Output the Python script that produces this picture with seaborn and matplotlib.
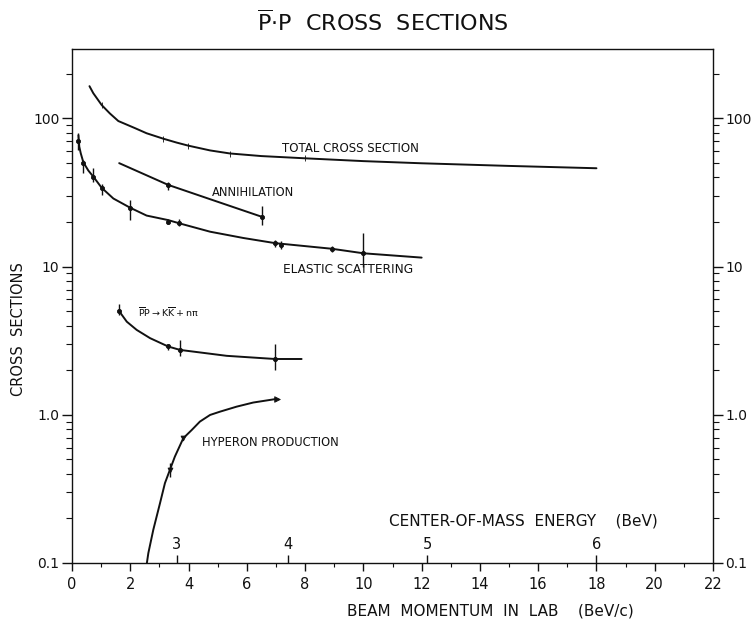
import numpy as np
import pandas as pd
import matplotlib
matplotlib.use("Agg")
import matplotlib.pyplot as plt
import matplotlib.transforms as mtransforms
import seaborn as sns

# ---- data: antiproton-proton cross sections (mb) vs beam momentum (BeV/c) ----
total_p = [0.60, 0.73, 1.02, 1.30, 1.59, 2.16, 2.56, 3.13, 3.59, 3.99, 4.74,
           5.42, 6.5, 8.0, 10.0, 12.0, 15.0, 18.0]
total_s = [165, 148, 123, 108, 96, 86, 79.4, 73, 68.7, 65.5, 60.8,
           58, 55.7, 53.8, 51.5, 49.8, 47.8, 46.1]
total_pts_p = [1.02, 3.13, 3.99, 5.42, 8.0]
total_pts_s = [123, 73, 65.5, 57.5, 53.8]

ann_p = [1.62, 3.30, 4.74, 6.51]
ann_s = [49.9, 35.6, 28.5, 21.7]
ann_pts_p = [3.30, 6.51]
ann_pts_s = [35.6, 21.7]
ann_lo = [32.9, 19.1]
ann_hi = [37.5, 25.5]

el_p = [0.22, 0.25, 0.30, 0.39, 0.56, 0.73, 1.02, 1.42, 1.99, 2.56, 3.30, 3.68,
        4.74, 5.88, 6.97, 8.91, 10.0, 12.0]
el_s = [77, 64.5, 58.2, 50.5, 44.5, 40.5, 34, 28.8, 25, 22.1, 20.6, 19.6,
        17.2, 15.6, 14.4, 13.2, 12.3, 11.5]
el_pts_p = [0.22, 0.39, 0.73, 1.02, 1.99, 3.30, 3.68, 6.97, 7.16, 8.91, 10.0]
el_pts_s = [70, 49.8, 40.5, 34, 24.8, 20.1, 19.6, 14.4, 14.0, 13.2, 12.3]
el_lo = [61, 43, 37.3, 30.5, 20.7, 19.3, 18.8, 13.6, 13.2, 12.6, 9.9]
el_hi = [80, 52.5, 46.3, 36, 28.2, 21.0, 20.9, 15.2, 14.8, 13.8, 16.8]

kk_p = [1.62, 1.88, 2.22, 2.68, 3.30, 3.71, 5.31, 6.97, 7.88]
kk_s = [5.0, 4.25, 3.74, 3.29, 2.89, 2.74, 2.50, 2.38, 2.38]
kk_pts_p = [1.62, 3.30, 3.71, 6.97]
kk_pts_s = [5.0, 2.89, 2.74, 2.38]
kk_lo = [4.7, 2.75, 2.5, 2.02]
kk_hi = [5.6, 3.02, 3.2, 3.0]

hyp_p = [2.57, 2.62, 2.79, 3.02, 3.19, 3.36, 3.53, 3.82, 4.11, 4.39, 4.74,
         5.08, 5.65, 6.22, 7.02]
hyp_s = [0.1, 0.1166, 0.1675, 0.253, 0.346, 0.425, 0.522, 0.695, 0.79, 0.90,
         0.998, 1.05, 1.135, 1.21, 1.28]
hyp_pts_p = [3.36, 3.82, 7.02]
hyp_pts_s = [0.425, 0.695, 1.28]
hyp_lo = [0.38, 0.695, 1.28]
hyp_hi = [0.47, 0.695, 1.28]

x_ticks = list(range(0, 23, 2))
y_ticks = [0.1, 1.0, 10, 100]
y_ticklabels = ["0.1", "1.0", "10", "100"]

# center-of-mass energy scale (BeV) and matching beam momentum (BeV/c)
cm_energy = ["3", "4", "5", "6"]
cm_momentum = [3.6, 7.4, 12.2, 18.0]

curve_labels = [
    ("TOTAL CROSS SECTION", 7.2, 62.2, 8.5),
    ("ANNIHILATION", 4.8, 31.4, 8.3),
    ("ELASTIC SCATTERING", 7.24, 9.5, 8.7),
    (r"$\overline{\rm P}{\rm P}\rightarrow{\rm K}\overline{\rm K}+n\pi$", 2.26, 4.95, 6.8),
    ("HYPERON PRODUCTION", 4.46, 0.646, 8.3),
]

# ---- style ----
sns.set_style("ticks")
plt.rcParams["font.family"] = ["DejaVu Sans"]
ink = "#111111"
plt.rcParams.update({
    "axes.edgecolor": ink, "axes.linewidth": 1.0,
    "xtick.color": ink, "ytick.color": ink,
    "text.color": ink, "axes.labelcolor": ink,
})

fig = plt.figure(figsize=(7.55, 6.22), dpi=100)
ax = fig.add_axes([72 / 755, 1 - 563 / 622, (713 - 72) / 755, (563 - 49) / 622])

def draw_curve(px, sy):
    df = pd.DataFrame({"p": px, "s": sy})
    sns.lineplot(data=df, x="p", y="s", ax=ax, color=ink, lw=1.4,
                 sort=False, estimator=None)

def draw_points(px, sy, lo=None, hi=None, marker="o", ms=3):
    df = pd.DataFrame({"p": px, "s": sy})
    sns.scatterplot(data=df, x="p", y="s", ax=ax, color=ink, marker=marker,
                    s=ms ** 2, edgecolor=ink, linewidth=0.6, zorder=4)
    if lo is not None:
        ax.vlines(px, lo, hi, colors=ink, lw=1.0, zorder=4)

draw_curve(total_p, total_s)
draw_points(total_pts_p, total_pts_s, marker="|", ms=5)

draw_curve(ann_p, ann_s)
draw_points(ann_pts_p, ann_pts_s, ann_lo, ann_hi)

draw_curve(el_p, el_s)
draw_points(el_pts_p, el_pts_s, el_lo, el_hi)

draw_curve(kk_p, kk_s)
draw_points(kk_pts_p, kk_pts_s, kk_lo, kk_hi)

draw_curve(hyp_p, hyp_s)
draw_points(hyp_pts_p[:2], hyp_pts_s[:2], hyp_lo[:2], hyp_hi[:2], marker="v", ms=3.5)
draw_points(hyp_pts_p[2:], hyp_pts_s[2:], marker=">", ms=4)

for txt, xp, yv, fs in curve_labels:
    ax.text(xp, yv, txt, fontsize=fs, ha="left", va="center", color=ink)

# ---- axes ----
ax.set_yscale("log")
ax.set_xlim(0, 22)
ax.set_ylim(0.1, 294)
ax.set_xticks(x_ticks)
ax.set_xticklabels([str(v) for v in x_ticks])
ax.set_xticks(list(range(1, 22, 2)), minor=True)
ax.set_yticks(y_ticks)
ax.set_yticklabels(y_ticklabels)
ax.set_xlabel("")
ax.set_ylabel("")
ax.tick_params(axis="y", which="both", direction="out", left=True, right=True,
               labelleft=True, labelright=True, labelsize=10, pad=2)
ax.tick_params(axis="y", which="major", length=7, width=1.0)
ax.tick_params(axis="y", which="minor", length=4, width=0.8)
ax.tick_params(axis="x", which="major", direction="out", length=6, width=1.0,
               labelsize=10.5, pad=4, top=False)
ax.tick_params(axis="x", which="minor", direction="out", length=3, width=0.8, top=False)
for sp in ax.spines.values():
    sp.set_visible(True)

# center-of-mass energy ticks standing on the bottom axis
trans = mtransforms.blended_transform_factory(ax.transData, ax.transAxes)
ax.vlines(cm_momentum, 0.0, 0.016, colors=ink, lw=1.0, transform=trans, clip_on=False)
for lab, xp in zip(cm_energy, cm_momentum):
    ax.text(xp, 0.022, lab, transform=trans, ha="center", va="bottom", fontsize=10.5)
ax.text(15.5, 0.082, "CENTER-OF-MASS  ENERGY    (BeV)", transform=trans,
        ha="center", va="center", fontsize=11)

fig.text(490 / 755, 1 - 611 / 622, "BEAM  MOMENTUM  IN  LAB    (BeV/c)",
         ha="center", va="center", fontsize=11)
fig.text(19 / 755, 1 - 329 / 622, "CROSS  SECTIONS", rotation=90,
         ha="center", va="center", fontsize=10.5)
fig.text(383 / 755, 1 - 22 / 622, r"$\overline{\mathrm{P}}$" + "\u00b7P  CROSS  SECTIONS",
         ha="center", va="center", fontsize=16)

fig.savefig("out.png", dpi=100, facecolor="white")
